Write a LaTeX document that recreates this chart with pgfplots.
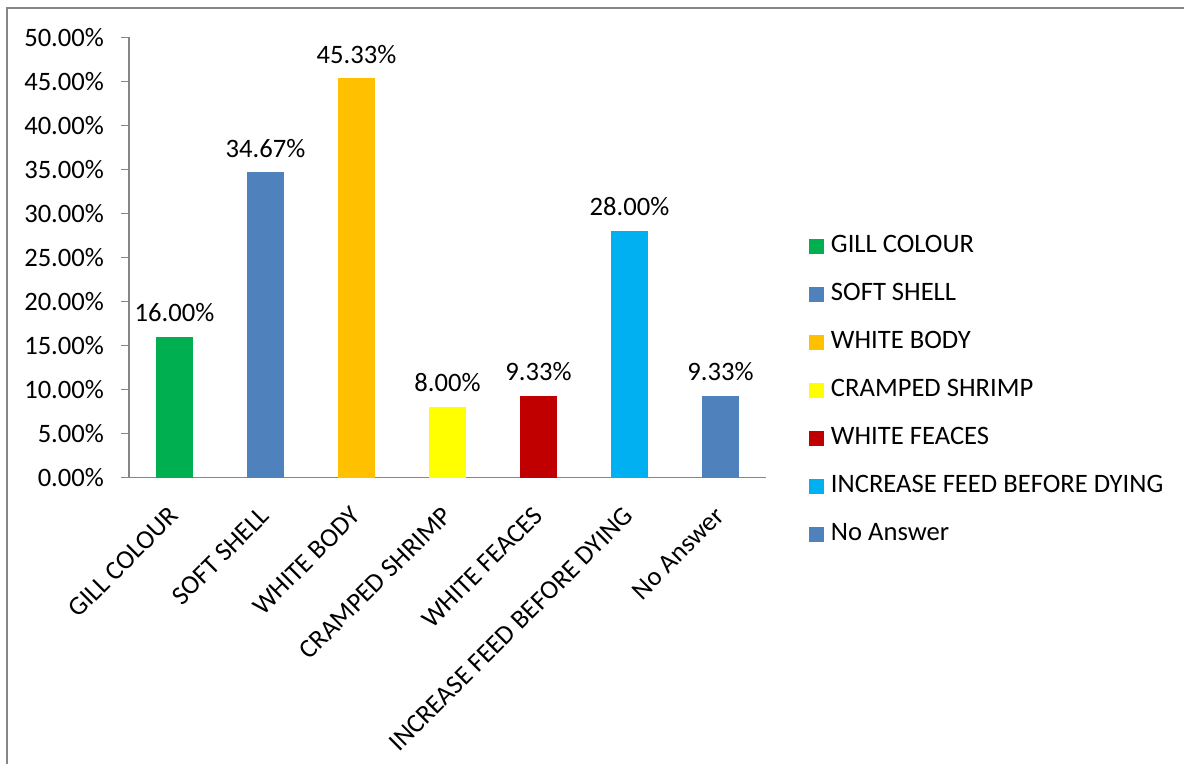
\documentclass[border=0pt]{standalone}
\usepackage{pgfplots}
\pgfplotsset{compat=1.18}
\usepackage{fontspec}
\setmainfont{Carlito}
\definecolor{cgreen}{RGB}{0,176,80}
\definecolor{cblue}{RGB}{79,129,189}
\definecolor{corange}{RGB}{255,192,0}
\definecolor{cyellow}{RGB}{255,255,0}
\definecolor{cred}{RGB}{192,0,0}
\definecolor{clblue}{RGB}{0,176,240}
\definecolor{axgray}{RGB}{134,134,134}
\newcommand{\chartfont}{\fontsize{13.3}{16}\selectfont}
\begin{document}
\begin{tikzpicture}
\path[use as bounding box] (0,0) rectangle (592pt,382pt);
\begin{axis}[
  at={(64.5pt,143.15pt)}, anchor=south west,
  scale only axis, width=318.5pt, height=220.2pt,
  ybar, bar width=18.25pt, bar shift=0pt,
  xmin=-0.5, xmax=6.5, ymin=0, ymax=50,
  axis x line*=bottom, axis y line*=left,
  axis line style={axgray, line width=0.75pt},
  font=\chartfont,
  /pgf/number format/assume math mode=true,
  ytick={0,5,...,50},
  yticklabel={\pgfmathprintnumber[fixed,fixed zerofill,precision=2]{\tick}\%},
  yticklabel style={xshift=-5pt},
  xtick={0,...,6},
  xticklabels={GILL COLOUR,SOFT SHELL,WHITE BODY,CRAMPED SHRIMP,WHITE FEACES,INCREASE FEED BEFORE DYING,No Answer},
  xticklabel style={rotate=45, anchor=east, xshift=-5.84pt, yshift=-8.9pt},
  xtick style={draw=none},
  minor xtick={-0.5,0.5,...,6.5},
  minor x tick style={axgray, line width=0.75pt},
  ytick style={axgray, line width=0.75pt},
  tick align=outside, major tick length=4pt, minor tick length=4pt,
  nodes near coords={\pgfmathprintnumber[fixed,fixed zerofill,precision=2]{\pgfplotspointmeta}\%},
  nodes near coords style={font=\chartfont, yshift=4pt, text=black},
  legend image code/.code={\fill[#1] (0pt,-3.75pt) rectangle (7.5pt,3.75pt);},
  legend style={at={(1.0675,0.5511)}, anchor=north west, draw=none, fill=none,
    inner sep=0pt, outer sep=0pt, row sep=12pt,
    font=\chartfont,
    nodes={text height=9pt, text depth=3pt, inner ysep=0pt, inner xsep=3.5pt}},
  legend cell align=left,
  clip=false,
]
\addplot[fill=cgreen, draw=none, bar shift=0pt] coordinates {(0,16.00)};
\addlegendentry{GILL COLOUR}
\addplot[fill=cblue, draw=none, bar shift=0pt] coordinates {(1,34.67)};
\addlegendentry{SOFT SHELL}
\addplot[fill=corange, draw=none, bar shift=0pt] coordinates {(2,45.33)};
\addlegendentry{WHITE BODY}
\addplot[fill=cyellow, draw=none, bar shift=0pt] coordinates {(3,8.00)};
\addlegendentry{CRAMPED SHRIMP}
\addplot[fill=cred, draw=none, bar shift=0pt] coordinates {(4,9.33)};
\addlegendentry{WHITE FEACES}
\addplot[fill=clblue, draw=none, bar shift=0pt] coordinates {(5,28.00)};
\addlegendentry{INCREASE FEED BEFORE DYING}
\addplot[fill=cblue, draw=none, bar shift=0pt] coordinates {(6,9.33)};
\addlegendentry{No Answer}
\end{axis}
\draw[axgray, line width=1pt] (3.35pt,0pt) -- (3.35pt,378.15pt) -- (592pt,378.15pt);
\end{tikzpicture}
\end{document}
